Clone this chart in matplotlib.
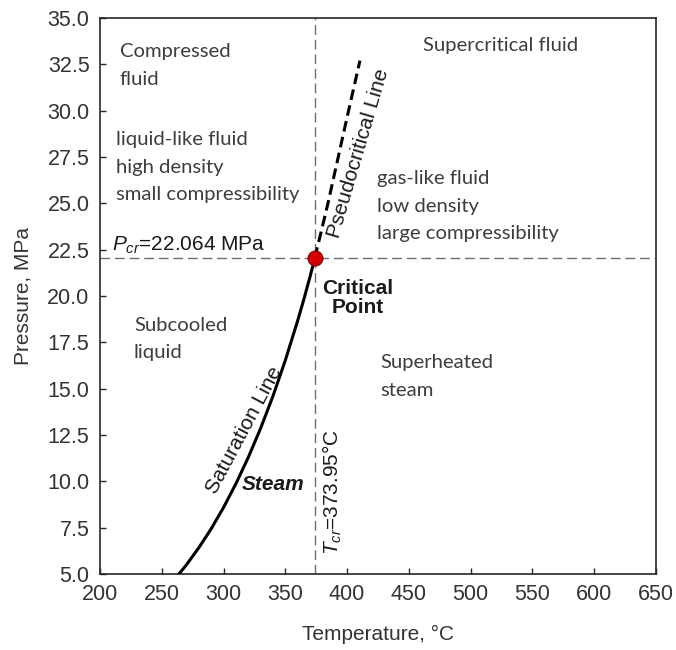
import matplotlib
matplotlib.use("Agg")
import matplotlib.pyplot as plt

plt.rcParams['font.family'] = ['Liberation Sans', 'DejaVu Sans']
plt.rcParams['mathtext.fontset'] = 'custom'
plt.rcParams['mathtext.rm'] = 'Liberation Sans'
plt.rcParams['mathtext.it'] = 'Liberation Sans:italic'

# --- Water saturation curve (temperature in degC, pressure in MPa)
sat_T = [263.9, 270, 280, 290, 300, 310, 320, 330, 340, 350, 360, 365, 370, 373.95]
sat_P = [5.0, 5.50, 6.42, 7.44, 8.59, 9.87, 11.29, 12.86, 14.60, 16.53, 18.67, 19.82, 21.04, 22.064]

# --- Pseudocritical line above the critical point
pc_T = [373.95, 384.5, 394.5, 401.2, 410.4]
pc_P = [22.064, 25.0, 28.0, 30.0, 32.7]

T_cr = 373.95
P_cr = 22.064

x_ticks = [200, 250, 300, 350, 400, 450, 500, 550, 600, 650]
y_ticks = [5.0, 7.5, 10.0, 12.5, 15.0, 17.5, 20.0, 22.5, 25.0, 27.5, 30.0, 32.5, 35.0]

fig = plt.figure(figsize=(6.76, 6.5), dpi=100)
ax = fig.add_axes([0.1479, 0.1169, 0.8225, 0.8554])

dark = '#262626'
region_color = '#3d3d3d'
region_font = ['Lato', 'DejaVu Sans']
region_size = 14.6
region_ls = 1.75

ax.set_xlim(200, 650)
ax.set_ylim(5, 35)
ax.set_xticks(x_ticks)
ax.set_yticks(y_ticks)
ax.set_yticklabels(['%.1f' % v for v in y_ticks])
ax.tick_params(direction='in', length=4.5, width=1.0, color=dark,
               labelsize=15.5, labelcolor='#333333', pad=7.5)
for sp in ax.spines.values():
    sp.set_color(dark)
    sp.set_linewidth(1.2)

ax.set_xlabel('Temperature, °C', fontsize=15, color='#333333', labelpad=14)
ax.set_ylabel('Pressure, MPa', fontsize=15, color='#333333', labelpad=11)

# critical isotherm / isobar
ax.axvline(T_cr, color='#6e6e6e', lw=1.0, dashes=(7, 3.5), zorder=1)
ax.axhline(P_cr, color='#6e6e6e', lw=1.0, dashes=(7, 3.5), zorder=1)

ax.plot(sat_T, sat_P, color='black', lw=2.2, zorder=3)
ax.plot(pc_T, pc_P, color='black', lw=2.2, dashes=(3.5, 1.8), zorder=3)
ax.plot([T_cr], [P_cr], 'o', ms=10.5, color='#d40000', mec='#8a0000', mew=1.0, zorder=4)

# region labels
ax.text(216.2, 32.44, 'Compressed\nfluid', family=region_font, fontsize=region_size,
        color=region_color, va='center', ha='left', linespacing=region_ls)
ax.text(212.9, 26.96, 'liquid-like fluid\nhigh density\nsmall compressibility',
        family=region_font, fontsize=region_size, color=region_color, va='center',
        ha='left', linespacing=region_ls)
ax.text(461.2, 33.54, 'Supercritical fluid', family=region_font, fontsize=region_size,
        color=region_color, va='center', ha='left')
ax.text(424.4, 24.85, 'gas-like fluid\nlow density\nlarge compressibility',
        family=region_font, fontsize=region_size, color=region_color, va='center',
        ha='left', linespacing=region_ls)
ax.text(227.5, 17.68, 'Subcooled\nliquid', family=region_font, fontsize=region_size,
        color=region_color, va='center', ha='left', linespacing=region_ls)
ax.text(426.6, 15.65, 'Superheated\nsteam', family=region_font, fontsize=region_size,
        color=region_color, va='center', ha='left', linespacing=region_ls)

ax.text(408.8, 19.89, 'Critical\nPoint', fontsize=15, fontweight='bold',
        color='#1a1a1a', ha='center', va='center', linespacing=1.05)
ax.text(340.0, 9.85, 'Steam', fontsize=15, fontweight='bold', style='italic',
        color='#1a1a1a', ha='center', va='center')

ax.text(316.5, 12.77, 'Saturation Line', fontsize=15, color='#1a1a1a',
        rotation=62, ha='center', va='center', rotation_mode='anchor')
ax.text(409.5, 27.71, 'Pseudocritical Line', fontsize=15, color='#1a1a1a',
        rotation=73.6, ha='center', va='center', rotation_mode='anchor')

ax.text(209.7, 22.43, r'$P_{cr}$=22.064 MPa', fontsize=15, color='#1a1a1a',
        ha='left', va='baseline')
ax.text(388.0, 9.42, r'$T_{cr}$=373.95°C', fontsize=15, color='#1a1a1a',
        rotation=90, ha='center', va='center')

fig.savefig('out.png', dpi=100)
